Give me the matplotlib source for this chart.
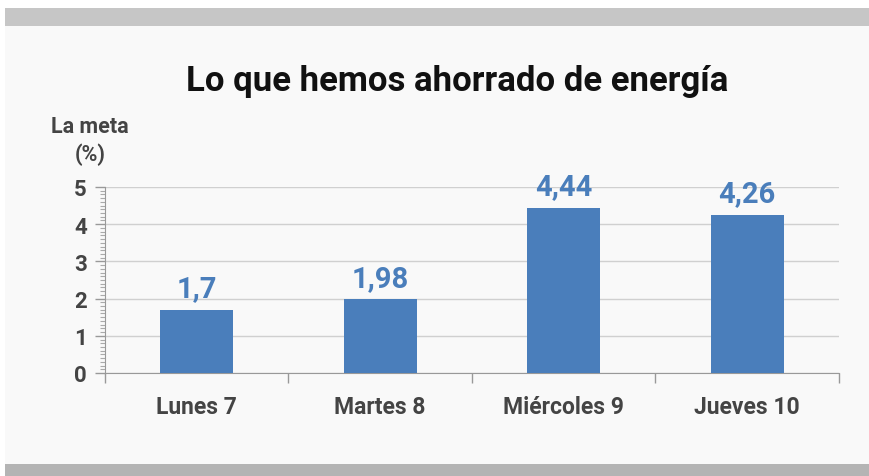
import matplotlib.pyplot as plt
from matplotlib.ticker import MultipleLocator, FixedLocator
from matplotlib.patches import Rectangle

categories = ['Lunes 7', 'Martes 8', 'Miércoles 9', 'Jueves 10']
values = [1.7, 1.98, 4.44, 4.26]
value_labels = ['1,7', '1,98', '4,44', '4,26']
title = 'Lo que hemos ahorrado de energía'
ylabel = 'La meta\n(%)'

W, H = 870, 477
plt.rcParams['font.family'] = ['Roboto', 'DejaVu Sans']

fig = plt.figure(figsize=(W / 100, H / 100), dpi=100)
fig.patch.set_facecolor('white')

# panel background and grey bars top/bottom
for rect in [((5 / W, 12 / H), 1, (450 - 12) / H, '#f9f9f9'),
             ((5 / W, (H - 27) / H), 1, 18 / H, '#c6c6c6'),
             ((5 / W, 0), 1, 12 / H, '#b4b4b4')]:
    fig.patches.append(Rectangle(rect[0], rect[1], rect[2], transform=fig.transFigure,
                                 facecolor=rect[3], edgecolor='none', zorder=-10))

ax = fig.add_axes([105 / W, 103 / H, (839 - 105) / W, (289 - 103) / H])
ax.set_zorder(5)
ax.set_facecolor('none')

x = range(len(categories))
ax.bar(x, values, width=0.4, color='#4a7ebb', zorder=3)
for xi, v, lab in zip(x, values, value_labels):
    ax.text(xi, v + 0.2, lab, ha='center', va='bottom', fontsize=21,
            fontweight='bold', color='#4a7ebb')

ax.set_xlim(-0.5, len(categories) - 0.5)
ax.set_ylim(0, 5)
ax.yaxis.set_major_locator(MultipleLocator(1))
ax.yaxis.set_minor_locator(MultipleLocator(0.1))
ax.xaxis.set_major_locator(FixedLocator([i + 0.5 for i in range(-1, len(categories))]))
ax.xaxis.set_minor_locator(FixedLocator(list(x)))
ax.set_xticklabels([''] * (len(categories) + 1))
ax.set_xticklabels(categories, minor=True)
ax.tick_params(axis='x', which='major', length=7, color='#999999', width=1)
ax.tick_params(axis='x', which='minor', length=0, pad=16, labelsize=16.5, labelcolor='#444444')
ax.tick_params(axis='y', which='major', length=7, color='#999999', width=1,
               labelsize=16, labelcolor='#444444', pad=6)
ax.tick_params(axis='y', which='minor', length=3.5, color='#aaaaaa', width=0.8)
for lab in ax.get_xticklabels(minor=True) + ax.get_yticklabels():
    lab.set_fontweight('bold')

ax.grid(axis='y', which='major', color='#d0d0d0', linewidth=1, zorder=0)
for s in ['top', 'right']:
    ax.spines[s].set_visible(False)
ax.spines['left'].set_color('#999999')
ax.spines['bottom'].set_color('#999999')

fig.text(457 / W, 1 - 82 / H, title, ha='center', va='center', fontsize=25,
         fontweight='bold', color='#111111')
fig.text(90 / W, 1 - 141 / H, ylabel, ha='center', va='center', fontsize=15.5,
         fontweight='bold', color='#444444', linespacing=1.35)

fig.savefig('out.png', dpi=100)
